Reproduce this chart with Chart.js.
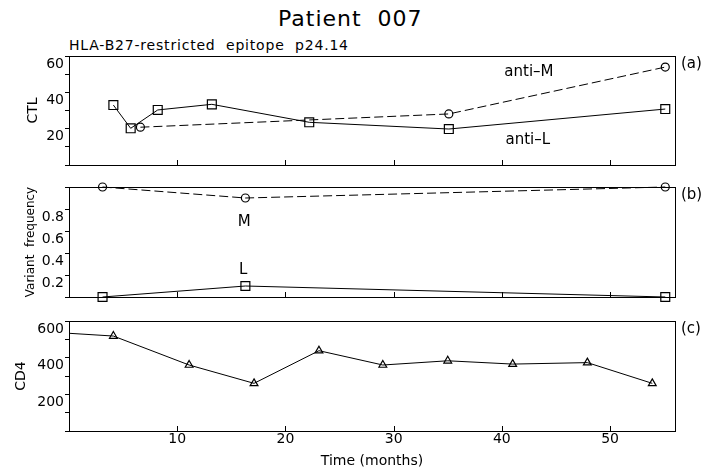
<!DOCTYPE html>
<html>
<head>
<meta charset="utf-8">
<script src="https://cdn.jsdelivr.net/npm/chart.js@4.4.1/dist/chart.umd.min.js"></script>
<style>
  body { margin: 0; background: #fff; }
  #pagina { position: relative; width: 712px; height: 475px; font-family: 'DejaVu Sans', sans-serif; color: #000; }
  #titulo { position: absolute; left: 278px; top: 6px; font-size: 22px; letter-spacing: 1px; white-space: pre; }
  #subtitulo { position: absolute; left: 69px; top: 37px; font-size: 14px; letter-spacing: 0.8px; white-space: pre; }
  canvas { position: absolute; left: 0; }
</style>
</head>
<body>
<div id="pagina">
  <div id="titulo">Patient  007</div>
  <div id="subtitulo">HLA-B27-restricted  epitope  p24.14</div>
  <canvas id="graficoCTL" width="712" height="131" style="top:44px"></canvas>
  <canvas id="graficoFreq" width="712" height="134" style="top:175px"></canvas>
  <canvas id="graficoCD4" width="712" height="166" style="top:309px"></canvas>
</div>
<script>
// Dados

const monthTicks = [10, 20, 30, 40, 50]

// (a) CTL
const antiLMonths = [4.1, 5.7, 8.2, 13.2, 22.2, 35.1, 55.1]
const antiLValues = [33.0, 20.2, 30.3, 33.4, 23.5, 19.8, 30.8]
const antiMMonths = [6.6, 35.1, 55.1]
const antiMValues = [20.8, 28.1, 53.9]
const ctlTicks = [0, 10, 20, 30, 40, 50, 60]
const ctlLabels = [20, 40, 60]

// (b) Variant frequency
const freqMonths = [3.1, 16.3, 55.1]
const freqM = [1.0, 0.9, 1.0]
const freqL = [0.0, 0.1, 0.0]
const freqTicks = [0, 0.2, 0.4, 0.6, 0.8, 1.0]
const freqLabels = [0.2, 0.4, 0.6, 0.8]

// (c) CD4
const cd4Months = [0, 4.1, 11.1, 17.1, 23.1, 29.0, 35.0, 41.0, 47.9, 53.9]
const cd4Values = [533, 518, 360, 260, 438, 360, 383, 365, 373, 260]
const cd4Ticks = [0, 100, 200, 300, 400, 500, 600]
const cd4Labels = [200, 400, 600]

Chart.defaults.font.family = "'DejaVu Sans', sans-serif"
Chart.defaults.color = '#000'

function pontos(xs, ys){
    const lista = []
    for(let i = 0; i < xs.length; i++){
        lista.push({ x: xs[i], y: ys[i] })
    }
    return lista
}

// moldura, ticks para dentro, textos
const moldura = {
    id: 'moldura',
    afterDraw(chart, args, opts){
        const ctx = chart.ctx
        const area = chart.chartArea
        const xs = chart.scales.x
        const ys = chart.scales.y
        ctx.save()
        ctx.strokeStyle = '#000'
        ctx.lineWidth = 1
        ctx.strokeRect(area.left + 0.5, area.top + 0.5, area.width, area.height)
        ctx.beginPath()
        for(const m of monthTicks){
            const px = Math.round(xs.getPixelForValue(m)) + 0.5
            ctx.moveTo(px, area.bottom)
            ctx.lineTo(px, area.bottom - 5)
        }
        ctx.stroke()

        ctx.fillStyle = '#000'
        ctx.font = "15px 'DejaVu Sans'"
        ctx.textAlign = 'center'
        ctx.textBaseline = 'middle'
        for(const n of opts.notas || []){
            ctx.fillText(n.texto, xs.getPixelForValue(n.x), ys.getPixelForValue(n.y))
        }
        ctx.textAlign = 'left'
        ctx.fillText(opts.letra, area.right + 6, area.top + 8)
        ctx.restore()
    }
}

function eixoY(ticks, labels, titulo, tamanho, pad, formato){
    return {
        min: ticks[0],
        max: ticks[ticks.length - 1],
        afterBuildTicks: s => { s.ticks = ticks.map(v => ({ value: v })) },
        afterFit: s => { s.width = 69 },
        ticks: {
            font: { size: 14 },
            padding: 1,
            labelOffset: 8,
            autoSkip: false,
            callback: v => labels.includes(v) ? formato(v) : ''
        },
        grid: { drawOnChartArea: false, drawTicks: true, tickLength: 4, color: '#000' },
        border: { display: true, color: '#000' },
        title: { display: true, text: titulo, font: { size: tamanho }, padding: { top: pad, bottom: 0 } }
    }
}

function eixoX(mostrar){
    return {
        type: 'linear',
        min: 0,
        max: 56,
        display: mostrar,
        afterBuildTicks: s => { s.ticks = monthTicks.map(v => ({ value: v })) },
        afterFit: s => { s.height = mostrar ? 44 : 0 },
        ticks: { font: { size: 14 }, padding: 0, maxRotation: 0, autoSkip: false },
        grid: { display: false, drawTicks: false },
        border: { display: false },
        title: { display: mostrar, text: 'Time (months)', font: { size: 14 }, padding: { top: 0, bottom: 5 } }
    }
}

function serie(dados, estilo, raio, tracejado){
    return {
        data: dados,
        borderColor: '#000',
        borderWidth: 1,
        borderDash: tracejado ? [9, 4] : [],
        tension: 0,
        pointStyle: estilo,
        pointRadius: raio,
        pointBorderWidth: 1.2,
        pointBorderColor: '#000',
        pointBackgroundColor: 'rgba(0,0,0,0)',
        clip: false
    }
}

function opcoes(escalas, padding, plug){
    return {
        responsive: false,
        animation: false,
        layout: { padding: padding },
        scales: escalas,
        plugins: { legend: { display: false }, tooltip: { enabled: false }, moldura: plug }
    }
}

// (a)
new Chart(document.getElementById('graficoCTL'), {
    type: 'line',
    data: { datasets: [
        serie(pontos(antiLMonths, antiLValues), 'rect', 6.3, false),
        serie(pontos(antiMMonths, antiMValues), 'circle', 4, true)
    ]},
    options: opcoes(
        { x: eixoX(false), y: eixoY(ctlTicks, ctlLabels, 'CTL', 14, 25, v => String(v)) },
        { left: 0, right: 37, top: 12, bottom: 10 },
        { letra: '(a)', notas: [ { texto: 'anti\u2013M', x: 42.5, y: 51.2 }, { texto: 'anti\u2013L', x: 42.4, y: 13.8 } ] }
    ),
    plugins: [moldura]
})

// (b)
new Chart(document.getElementById('graficoFreq'), {
    type: 'line',
    data: { datasets: [
        serie(pontos(freqMonths, freqM), 'circle', 4, true),
        serie(pontos(freqMonths, freqL), 'rect', 6.3, false)
    ]},
    options: opcoes(
        { x: eixoX(false), y: eixoY(freqTicks, freqLabels, 'Variant  frequency', 12, 24, v => v.toFixed(1)) },
        { left: 0, right: 37, top: 12, bottom: 12 },
        { letra: '(b)', notas: [ { texto: 'M', x: 16.2, y: 0.68 }, { texto: 'L', x: 16.1, y: 0.24 } ] }
    ),
    plugins: [moldura]
})

// (c)
const serieCD4 = serie(pontos(cd4Months, cd4Values), 'triangle', 4.5, false)
serieCD4.pointRadius = c => c.dataIndex === 0 ? 0 : 4.5

new Chart(document.getElementById('graficoCD4'), {
    type: 'line',
    data: { datasets: [ serieCD4 ] },
    options: opcoes(
        { x: eixoX(true), y: eixoY(cd4Ticks, cd4Labels, 'CD4', 14, 13, v => String(v)) },
        { left: 0, right: 37, top: 12, bottom: 0 },
        { letra: '(c)', notas: [] }
    ),
    plugins: [moldura]
})
</script>
</body>
</html>
